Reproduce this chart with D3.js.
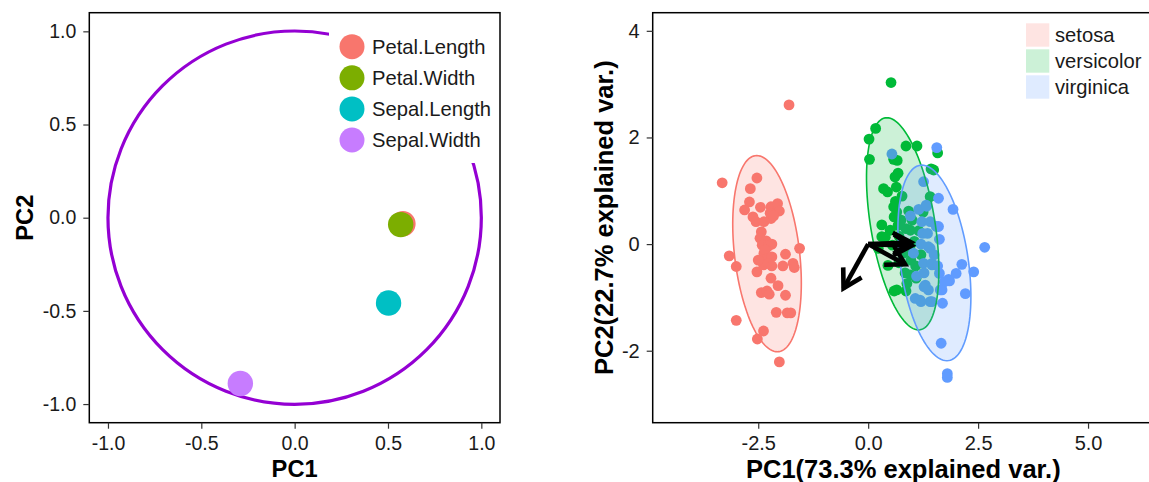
<!DOCTYPE html>
<html>
<head>
<meta charset="utf-8">
<script src="https://cdn.jsdelivr.net/npm/d3@7/dist/d3.min.js"></script>
<style>
  html, body { margin: 0; background: #fff; }
  svg { display: block; font-family: "Liberation Sans", Arial, Helvetica, sans-serif; }
</style>
</head>
<body>
<svg id="chart" width="1149" height="482"></svg>
<script>
// ---- data: variable loadings (left panel) ----
var varNames = ["Petal.Length", "Petal.Width", "Sepal.Length", "Sepal.Width"];
var varPC1 = [0.58, 0.568, 0.503, -0.291];
var varPC2 = [-0.032, -0.037, -0.458, -0.89];
var varColors = ["#F8766D", "#7CAE00", "#00BFC4", "#C77CFF"];
var circleRadius = 1;
var leftTicks = [-1, -0.5, 0, 0.5, 1];

// ---- data: observation scores (right panel) ----
var species = ["setosa", "versicolor", "virginica"];
var speciesColors = ["#F8766D", "#00BA38", "#619CFF"];
var setosaScores = [[-1.80,2.61],[-3.32,1.15],[-2.53,1.24],[-2.68,1.04],[-2.70,0.79],[-2.81,0.64],[-2.45,0.69],[-2.21,0.70],[-2.06,0.76],[-2.02,0.62],[-2.62,0.51],[-2.55,0.42],[-2.37,0.42],[-2.21,0.48],[-2.23,0.58],[-2.15,0.53],[-2.43,0.23],[-2.46,0.11],[-2.32,0.06],[-2.41,-0.02],[-2.27,-0.04],[-2.19,0.0],[-2.37,-0.17],[-2.34,-0.11],[-2.30,-0.27],[-2.19,-0.24],[-1.56,-0.08],[-1.88,-0.19],[-3.16,-0.22],[-3.00,-0.42],[-2.53,-0.52],[-2.38,-0.39],[-2.50,-0.30],[-2.27,-0.36],[-2.19,-0.41],[-1.94,-0.41],[-1.71,-0.36],[-1.68,-0.44],[-2.21,-0.64],[-2.05,-0.78],[-2.43,-0.91],[-2.30,-0.88],[-2.25,-0.94],[-1.88,-0.96],[-2.09,-1.28],[-1.84,-1.29],[-1.76,-1.29],[-3.00,-1.43],[-2.38,-1.63],[-2.52,-1.78],[-2.02,-2.21]];
var versicolorScores = [[0.52,3.03],[0.17,2.17],[0.02,1.97],[0.03,1.59],[0.86,1.84],[1.11,1.84],[1.58,1.71],[0.58,1.59],[0.66,1.57],[0.68,1.33],[0.61,1.26],[1.43,1.41],[1.49,1.39],[0.35,1.04],[0.44,0.98],[0.64,1.07],[0.77,0.90],[1.41,0.89],[0.58,0.70],[0.62,0.80],[0.59,0.51],[0.65,0.60],[0.31,0.36],[0.50,0.26],[0.39,0.13],[0.31,0.14],[0.86,0.29],[0.96,0.26],[0.75,0.45],[0.70,0.15],[0.23,-0.08],[0.55,-0.02],[0.80,-0.17],[0.95,-0.05],[1.08,-0.41],[0.84,-0.54],[1.09,-0.64],[0.88,-0.74],[0.59,-0.88],[0.86,-0.88],[0.65,-0.86],[1.00,0.45],[1.15,0.25],[0.70,-0.35],[1.20,-0.20],[0.97,-0.30],[0.96,-0.58],[1.05,0.05],[0.45,-0.40],[0.68,0.35],[1.25,0.60],[0.92,0.62]];
var virginicaScores = [[1.56,1.81],[0.54,1.69],[1.26,1.17],[1.60,0.86],[1.93,0.65],[1.15,0.65],[1.32,0.73],[0.96,0.53],[1.22,0.42],[1.55,0.33],[1.24,0.20],[1.62,0.09],[1.41,-0.08],[1.03,-0.17],[1.26,-0.36],[1.45,-0.39],[1.62,-0.55],[1.83,-0.66],[2.00,-0.55],[2.13,-0.38],[2.40,-0.52],[1.27,-0.54],[1.30,-0.77],[1.68,-0.86],[2.21,-0.93],[1.07,-1.02],[1.20,-1.08],[1.41,-1.08],[1.69,-1.11],[1.66,-1.86],[1.80,-2.43],[1.80,-2.50],[2.65,-0.06],[1.33,0.71],[1.41,0.42],[1.37,-0.05],[1.45,-0.36],[1.73,-0.71],[1.27,-0.80],[1.37,-0.86],[1.64,-0.86],[1.18,-1.05],[1.45,-1.08],[1.85,-0.69],[1.10,-0.60],[1.50,-0.20],[1.20,0.00],[1.35,0.20],[1.60,0.33],[1.58,-0.41]];
// 68% ellipses: centre, offset to topmost point, horizontal half-width through centre
var ellipseCenter = [[-2.30,-0.18],[0.785,0.38],[1.506,-0.353]];
var ellipseTop = [[-0.234,1.84],[-0.36,1.99],[-0.284,1.834]];
var ellipseHalfWidth = [0.744, 0.74, 0.78];
// variable arrows in score space
var arrowPC1 = [0.99, 0.98, 0.84, -0.56];
var arrowPC2 = [-0.03, 0.03, -0.38, -0.83];
var rightXTicks = [-2.5, 0, 2.5, 5];
var rightYTicks = [-2, 0, 2, 4];

var svg = d3.select("#chart");
svg.append("rect").attr("width", 1149).attr("height", 482).attr("fill", "#fff");

function styleAxis(size) {
  return function (g) {
    g.select(".domain").remove();
    g.selectAll(".tick line").attr("stroke", "#333").attr("stroke-width", 1.2);
    g.selectAll(".tick text").attr("fill", "#1a1a1a").style("font-size", size + "px");
  };
}

// ================= left panel =================
var L = { x0: 89.3, x1: 500, y0: 12.7, y1: 422.7 };
var xL = d3.scaleLinear().domain([-1.1, 1.1]).range([L.x0, L.x1]);
var yL = d3.scaleLinear().domain([-1.1, 1.1]).range([L.y1, L.y0]);
var gl = svg.append("g");

gl.append("circle").attr("cx", xL(0)).attr("cy", yL(0)).attr("r", xL(circleRadius) - xL(0))
  .attr("fill", "none").attr("stroke", "#9400D3").attr("stroke-width", 3.2);

gl.selectAll("circle.var").data(varNames).enter().append("circle").attr("class", "var")
  .attr("cx", function (d, i) { return xL(varPC1[i]); })
  .attr("cy", function (d, i) { return yL(varPC2[i]); })
  .attr("r", 12.7).attr("fill", function (d, i) { return varColors[i]; });

// legend (white box hides part of the circle)
var lgL = gl.append("g");
lgL.append("rect").attr("x", 329).attr("y", 27).attr("width", 170).attr("height", 136).attr("fill", "#fff");
varNames.forEach(function (n, i) {
  var cy = 46.7 + i * 31.1;
  lgL.append("circle").attr("cx", 352).attr("cy", cy).attr("r", 12.5).attr("fill", varColors[i]);
  lgL.append("text").attr("x", 372).attr("y", cy).attr("dy", "0.36em").style("font-size", "20.2px").attr("fill", "#1a1a1a").text(n);
});

gl.append("rect").attr("x", L.x0).attr("y", L.y0).attr("width", L.x1 - L.x0).attr("height", L.y1 - L.y0)
  .attr("fill", "none").attr("stroke", "#000").attr("stroke-width", 1.5);
gl.append("g").attr("transform", "translate(0," + L.y1 + ")")
  .call(d3.axisBottom(xL).tickValues(leftTicks).tickSize(6).tickPadding(7).tickFormat(function (d) { return d.toFixed(1); }))
  .call(styleAxis(19.5));
gl.append("g").attr("transform", "translate(" + L.x0 + ",0)")
  .call(d3.axisLeft(yL).tickValues(leftTicks).tickSize(6).tickPadding(7).tickFormat(function (d) { return d.toFixed(1); }))
  .call(styleAxis(19.5));
gl.append("text").attr("x", (L.x0 + L.x1) / 2).attr("y", 477).attr("text-anchor", "middle")
  .style("font-size", "23.7px").style("font-weight", "bold").text("PC1");
gl.append("text").attr("transform", "translate(33," + (L.y0 + L.y1) / 2 + ") rotate(-90)").attr("text-anchor", "middle")
  .style("font-size", "23.7px").style("font-weight", "bold").text("PC2");

// ================= right panel =================
var R = { x0: 652.7, x1: 1154, y0: 12.7, y1: 422.7 };
var xR = d3.scaleLinear().domain([-4.9, 6.5]).range([R.x0, R.x1]);
var yR = d3.scaleLinear().domain([-3.35, 4.34]).range([R.y1, R.y0]);
var gr = svg.append("g");
var scores = [setosaScores, versicolorScores, virginicaScores];

scores.forEach(function (pts, k) {
  gr.append("g").selectAll("circle").data(pts).enter().append("circle")
    .attr("cx", function (d) { return xR(d[0]); })
    .attr("cy", function (d) { return yR(d[1]); })
    .attr("r", 5.4).attr("fill", speciesColors[k]);
});

var ellLine = d3.line().x(function (d) { return xR(d[0]); }).y(function (d) { return yR(d[1]); }).curve(d3.curveLinearClosed);
species.forEach(function (s, k) {
  var c = ellipseCenter[k], t = ellipseTop[k], hw = ellipseHalfWidth[k];
  var pts = d3.range(120).map(function (i) {
    var a = i / 120 * 2 * Math.PI;
    return [c[0] + t[0] * Math.cos(a) + hw * Math.sin(a), c[1] + t[1] * Math.cos(a)];
  });
  gr.append("path").attr("d", ellLine(pts))
    .attr("fill", speciesColors[k]).attr("fill-opacity", 0.2)
    .attr("stroke", speciesColors[k]).attr("stroke-width", 1.6);
});

// arrows
var ga = gr.append("g").attr("stroke", "#000").attr("stroke-width", 4.6).attr("fill", "none").attr("stroke-linecap", "butt").attr("stroke-linejoin", "miter");
arrowPC1.forEach(function (ax, i) {
  var ox = xR(0), oy = yR(0), tx = xR(ax), ty = yR(arrowPC2[i]);
  var ang = Math.atan2(oy - ty, ox - tx), len = 21, spread = Math.PI / 6;
  var w1 = [tx + len * Math.cos(ang + spread), ty + len * Math.sin(ang + spread)];
  var w2 = [tx + len * Math.cos(ang - spread), ty + len * Math.sin(ang - spread)];
  ga.append("line").attr("x1", ox).attr("y1", oy).attr("x2", tx).attr("y2", ty);
  ga.append("path").attr("d", "M" + w1 + "L" + tx + "," + ty + "L" + w2);
});

// legend
species.forEach(function (s, k) {
  var y = 23.3 + k * 26;
  gr.append("rect").attr("x", 1026).attr("y", y).attr("width", 23.3).attr("height", 23.4)
    .attr("fill", speciesColors[k]).attr("fill-opacity", 0.2);
  gr.append("text").attr("x", 1055).attr("y", y + 11.7).attr("dy", "0.36em").style("font-size", "20.2px").attr("fill", "#1a1a1a").text(s);
});

gr.append("rect").attr("x", R.x0).attr("y", R.y0).attr("width", R.x1 - R.x0).attr("height", R.y1 - R.y0)
  .attr("fill", "none").attr("stroke", "#000").attr("stroke-width", 1.5);
gr.append("g").attr("transform", "translate(0," + R.y1 + ")")
  .call(d3.axisBottom(xR).tickValues(rightXTicks).tickSize(6).tickPadding(7).tickFormat(function (d) { return d.toFixed(1); }))
  .call(styleAxis(20));
gr.append("g").attr("transform", "translate(" + R.x0 + ",0)")
  .call(d3.axisLeft(yR).tickValues(rightYTicks).tickSize(6).tickPadding(7).tickFormat(function (d) { return String(d); }))
  .call(styleAxis(20));
gr.append("text").attr("x", (R.x0 + R.x1) / 2).attr("y", 478).attr("text-anchor", "middle")
  .style("font-size", "25.5px").style("font-weight", "bold").text("PC1(73.3% explained var.)");
gr.append("text").attr("transform", "translate(613," + (R.y0 + R.y1) / 2 + ") rotate(-90)").attr("text-anchor", "middle")
  .style("font-size", "25.5px").style("font-weight", "bold").text("PC2(22.7% explained var.)");
</script>
</body>
</html>
